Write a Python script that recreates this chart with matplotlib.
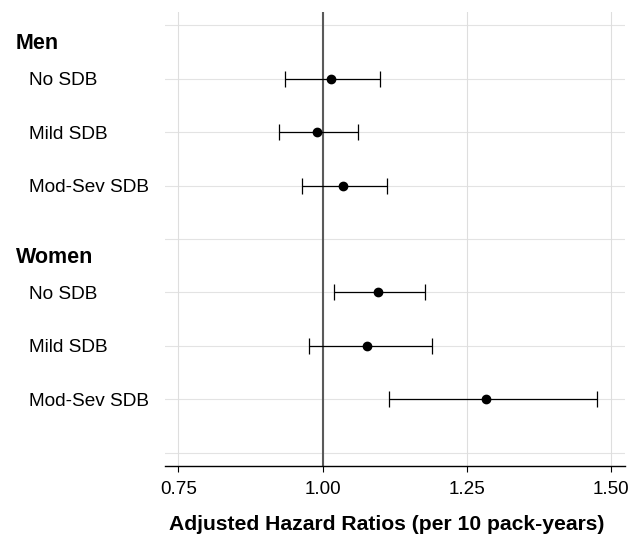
import numpy as np
from matplotlib import pyplot as plt
from matplotlib import transforms

plt.rcParams['font.family'] = ['Liberation Sans', 'DejaVu Sans']

# rows from top to bottom, "" = spacer row
row_labels = ["", "No SDB", "Mild SDB", "Mod-Sev SDB", "", "No SDB", "Mild SDB", "Mod-Sev SDB", ""]
groups = ["Men", "Women"]
group_rows = [0, 4]

est_rows = [1, 2, 3, 5, 6, 7]
hr = [1.014, 0.990, 1.035, 1.095, 1.077, 1.283]
ci_low = [0.935, 0.924, 0.964, 1.020, 0.977, 1.115]
ci_high = [1.100, 1.062, 1.112, 1.177, 1.189, 1.476]

xticks = [0.75, 1.00, 1.25, 1.50]

fig = plt.figure(figsize=(6.36, 5.38), dpi=100)
ax = fig.add_axes([165/636, 1 - 466/538, 460/636, 454/538])

ax.set_xlim(0.7268, 1.5237)
ax.set_ylim(8.243, -0.243)

for y in range(len(row_labels)):
    ax.axhline(y, color='#e3e3e3', lw=0.8, zorder=0)
for x in xticks:
    ax.axvline(x, color='#dedede', lw=0.8, zorder=0)

ax.axvline(1.0, color='#5a5a5a', lw=1.5, zorder=1)

hr = np.array(hr)
err = [hr - np.array(ci_low), np.array(ci_high) - hr]
ax.errorbar(hr, est_rows, xerr=err, fmt='o', color='black', ms=6,
            elinewidth=0.9, capsize=5.6, capthick=0.9, zorder=3)

for s in ['top', 'right', 'left']:
    ax.spines[s].set_visible(False)
ax.spines['bottom'].set_color('black')
ax.spines['bottom'].set_linewidth(1.0)

ax.set_xticks(xticks)
ax.set_xticklabels(["%.2f" % v for v in xticks])
ax.tick_params(axis='x', length=4, width=0.8, color='black', labelsize=13.6, pad=7)

ax.set_yticks(range(len(row_labels)))
ax.set_yticklabels(row_labels, fontsize=13.7)
ax.tick_params(axis='y', length=0, pad=136 * 72 / 100)
for lab in ax.get_yticklabels():
    lab.set_horizontalalignment('left')

trans = transforms.blended_transform_factory(ax.transAxes, ax.transData)
for g, r in zip(groups, group_rows):
    ax.text((16 - 165) / 460, r + 0.35, g, transform=trans, fontsize=15.5,
            fontweight='bold', ha='left', va='center')

ax.set_xlabel("Adjusted Hazard Ratios (per 10 pack-years)", fontsize=15.2,
              fontweight='bold', va='center')
ax.xaxis.set_label_coords(0.483, -(525 - 466) / 454)

fig.savefig('out.png', dpi=100)
